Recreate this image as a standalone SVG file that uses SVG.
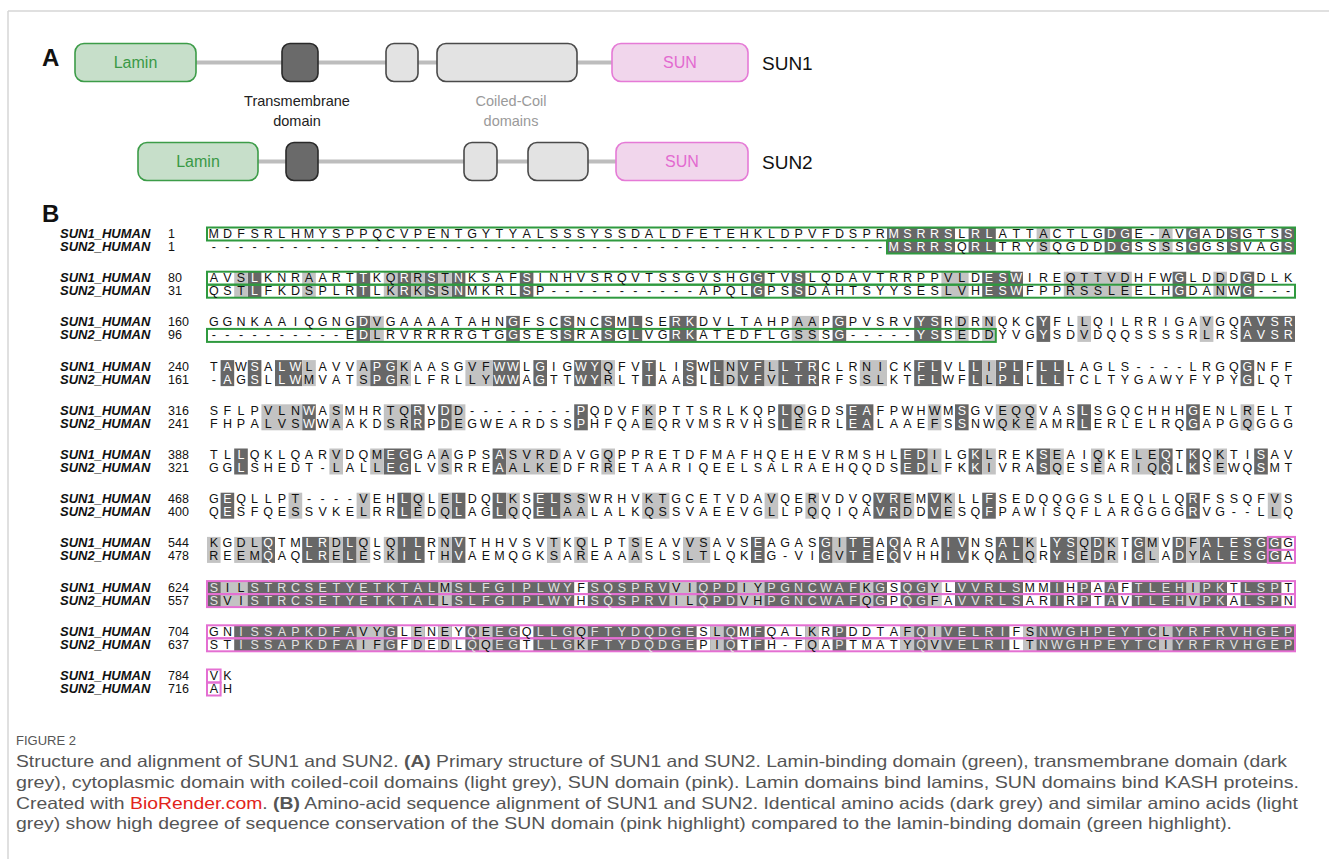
<svg xmlns="http://www.w3.org/2000/svg" width="1329" height="859" viewBox="0 0 1329 859">
<defs><style>
.seq{font-family:"Liberation Sans",Arial,sans-serif;font-size:12.5px;fill:#111;text-anchor:middle}
.w{fill:#fff}
.w2{fill:#e2e2e2}
.lab{font-family:"Liberation Sans",Arial,sans-serif;font-size:13px;font-weight:bold;font-style:italic;fill:#111}
.num{font-family:"Liberation Sans",Arial,sans-serif;font-size:12.5px;fill:#111}
.d{fill:#676767}
.l{fill:#c3c3c3}
.wc{fill:#fff}
.gb{fill:none;stroke:#2f9a3f;stroke-width:2}
.pb{fill:none;stroke:#e46fd2;stroke-width:2}
.cap{font-family:"Liberation Sans",Arial,sans-serif;font-size:16.5px;fill:#555}
.big{font-family:"Liberation Sans",Arial,sans-serif;font-size:24px;font-weight:bold;fill:#111}
.bb{stroke:#bdbdbd;stroke-width:4}
.lam{fill:#c7dfca;stroke:#3c9c48;stroke-width:1.6}
.lamt{font-family:"Liberation Sans",Arial,sans-serif;font-size:16px;fill:#3a9946;text-anchor:middle}
.tm{fill:#6a6a6a;stroke:#2a2a2a;stroke-width:1.6}
.cc{fill:#e3e3e3;stroke:#4a4a4a;stroke-width:1.6}
.sun{fill:#f1d6ec;stroke:#e57ad6;stroke-width:1.6}
.sunt{font-family:"Liberation Sans",Arial,sans-serif;font-size:16px;fill:#e36ad0;text-anchor:middle}
.name{font-family:"Liberation Sans",Arial,sans-serif;font-size:19px;fill:#111}
.note{font-family:"Liberation Sans",Arial,sans-serif;font-size:14.5px;text-anchor:middle}
</style></defs>
<rect x="0" y="0" width="1329" height="859" fill="#fff"/>
<g id="frame"><line x1="8" y1="11" x2="1329" y2="11" stroke="#d6d6d6" stroke-width="1.5"/><line x1="8" y1="11" x2="8" y2="859" stroke="#d6d6d6" stroke-width="1.5"/></g>

<g id="panelA">
<text x="42" y="66" class="big">A</text>
<g id="connectors">
<line x1="196" y1="62.5" x2="612" y2="62.5" class="bb"/>
<line x1="258" y1="161.5" x2="616" y2="161.5" class="bb"/>
</g>
<g id="sun1-lamin"><rect x="75" y="43.5" width="121" height="38" rx="9" class="lam"/><text x="135.5" y="68" class="lamt">Lamin</text></g>
<g id="sun1-tm"><rect x="282" y="43.5" width="36" height="38" rx="8" class="tm"/></g>
<g id="sun1-cc1"><rect x="386" y="43.5" width="32" height="38" rx="8" class="cc"/></g>
<g id="sun1-cc2"><rect x="437" y="43.5" width="140" height="38" rx="9" class="cc"/></g>
<g id="sun1-sun"><rect x="612" y="43.5" width="136" height="38" rx="9" class="sun"/><text x="680" y="68" class="sunt">SUN</text></g>
<g id="sun1-name"><text x="762" y="70" class="name">SUN1</text></g>
<g id="tm-label"><text x="297" y="106" class="note" fill="#222">Transmembrane</text><text x="297" y="126" class="note" fill="#222">domain</text></g>
<g id="cc-label"><text x="511" y="106" class="note" fill="#9a9a9a">Coiled-Coil</text><text x="511" y="126" class="note" fill="#9a9a9a">domains</text></g>
<g id="sun2-lamin"><rect x="138" y="142.5" width="120" height="38" rx="9" class="lam"/><text x="198" y="167" class="lamt">Lamin</text></g>
<g id="sun2-tm"><rect x="286" y="142.5" width="32" height="38" rx="8" class="tm"/></g>
<g id="sun2-cc1"><rect x="464" y="142.5" width="33" height="38" rx="8" class="cc"/></g>
<g id="sun2-cc2"><rect x="528" y="142.5" width="60" height="38" rx="9" class="cc"/></g>
<g id="sun2-sun"><rect x="616" y="142.5" width="132" height="38" rx="9" class="sun"/><text x="682" y="167" class="sunt">SUN</text></g>
<g id="sun2-name"><text x="762" y="169" class="name">SUN2</text></g>
</g>

<g id="panelB">
<text x="42" y="222" class="big">B</text>

<g id="shading">
<g transform="translate(207 227.5) scale(13.6 13)">
<rect class="d" x="50" y="0" width="5" height="2"/><rect class="d" x="56" y="0" width="2" height="2"/><rect class="d" x="66" y="0" width="2" height="2"/><rect class="d" x="72" y="0" width="1" height="2"/><rect class="d" x="75" y="0" width="1" height="2"/><rect class="d" x="79" y="0" width="1" height="2"/>
<rect class="l" x="61" y="0" width="1" height="2"/><rect class="l" x="70" y="0" width="1" height="2"/>
</g>
<g transform="translate(207 271.7) scale(13.6 13)">
<rect class="d" x="3" y="0" width="1" height="2"/><rect class="d" x="11" y="0" width="1" height="2"/><rect class="d" x="14" y="0" width="1" height="2"/><rect class="d" x="16" y="0" width="1" height="2"/><rect class="d" x="18" y="0" width="1" height="2"/><rect class="d" x="23" y="0" width="1" height="2"/><rect class="d" x="40" y="0" width="1" height="2"/><rect class="d" x="43" y="0" width="1" height="2"/><rect class="d" x="57" y="0" width="3" height="2"/><rect class="d" x="71" y="0" width="1" height="2"/><rect class="d" x="76" y="0" width="1" height="2"/>
<rect class="l" x="2" y="0" width="1" height="2"/><rect class="l" x="7" y="0" width="1" height="2"/><rect class="l" x="13" y="0" width="1" height="2"/><rect class="l" x="15" y="0" width="1" height="2"/><rect class="l" x="17" y="0" width="1" height="2"/><rect class="l" x="54" y="0" width="2" height="2"/><rect class="l" x="63" y="0" width="5" height="2"/><rect class="l" x="74" y="0" width="1" height="2"/>
</g>
<g transform="translate(207 315.9) scale(13.6 13)">
<rect class="d" x="11" y="0" width="1" height="2"/><rect class="d" x="22" y="0" width="1" height="2"/><rect class="d" x="26" y="0" width="1" height="2"/><rect class="d" x="29" y="0" width="1" height="2"/><rect class="d" x="31" y="0" width="1" height="2"/><rect class="d" x="34" y="0" width="2" height="2"/><rect class="d" x="46" y="0" width="1" height="2"/><rect class="d" x="52" y="0" width="2" height="2"/><rect class="d" x="61" y="0" width="1" height="2"/><rect class="d" x="76" y="0" width="4" height="2"/>
<rect class="l" x="12" y="0" width="1" height="2"/><rect class="l" x="43" y="0" width="2" height="2"/><rect class="l" x="55" y="0" width="1" height="2"/><rect class="l" x="57" y="0" width="1" height="2"/><rect class="l" x="64" y="0" width="1" height="2"/><rect class="l" x="73" y="0" width="1" height="2"/>
</g>
<g transform="translate(207 360.1) scale(13.6 13)">
<rect class="d" x="1" y="0" width="1" height="2"/><rect class="d" x="3" y="0" width="1" height="2"/><rect class="d" x="5" y="0" width="2" height="2"/><rect class="d" x="12" y="0" width="2" height="2"/><rect class="d" x="21" y="0" width="2" height="2"/><rect class="d" x="24" y="0" width="1" height="2"/><rect class="d" x="27" y="0" width="2" height="2"/><rect class="d" x="32" y="0" width="1" height="2"/><rect class="d" x="35" y="0" width="1" height="2"/><rect class="d" x="37" y="0" width="1" height="2"/><rect class="d" x="39" y="0" width="2" height="2"/><rect class="d" x="42" y="0" width="3" height="2"/><rect class="d" x="52" y="0" width="2" height="2"/><rect class="d" x="56" y="0" width="1" height="2"/><rect class="d" x="58" y="0" width="2" height="2"/><rect class="d" x="61" y="0" width="2" height="2"/><rect class="d" x="76" y="0" width="1" height="2"/>
<rect class="l" x="7" y="0" width="1" height="2"/><rect class="l" x="11" y="0" width="1" height="2"/><rect class="l" x="14" y="0" width="1" height="2"/><rect class="l" x="19" y="0" width="2" height="2"/><rect class="l" x="29" y="0" width="1" height="2"/><rect class="l" x="38" y="0" width="1" height="2"/><rect class="l" x="41" y="0" width="1" height="2"/><rect class="l" x="48" y="0" width="2" height="2"/><rect class="l" x="57" y="0" width="1" height="2"/>
</g>
<g transform="translate(207 404.3) scale(13.6 13)">
<rect class="d" x="7" y="0" width="1" height="2"/><rect class="d" x="15" y="0" width="1" height="2"/><rect class="d" x="17" y="0" width="1" height="2"/><rect class="d" x="27" y="0" width="1" height="2"/><rect class="d" x="42" y="0" width="1" height="2"/><rect class="d" x="47" y="0" width="2" height="2"/><rect class="d" x="55" y="0" width="1" height="2"/><rect class="d" x="64" y="0" width="1" height="2"/><rect class="d" x="72" y="0" width="1" height="2"/>
<rect class="l" x="4" y="0" width="3" height="2"/><rect class="l" x="9" y="0" width="1" height="2"/><rect class="l" x="13" y="0" width="2" height="2"/><rect class="l" x="18" y="0" width="1" height="2"/><rect class="l" x="32" y="0" width="1" height="2"/><rect class="l" x="43" y="0" width="1" height="2"/><rect class="l" x="53" y="0" width="1" height="2"/><rect class="l" x="58" y="0" width="3" height="2"/><rect class="l" x="76" y="0" width="1" height="2"/>
</g>
<g transform="translate(207 448.5) scale(13.6 13)">
<rect class="d" x="2" y="0" width="1" height="2"/><rect class="d" x="13" y="0" width="2" height="2"/><rect class="d" x="21" y="0" width="1" height="2"/><rect class="d" x="51" y="0" width="2" height="2"/><rect class="d" x="56" y="0" width="1" height="2"/><rect class="d" x="61" y="0" width="1" height="2"/><rect class="d" x="70" y="0" width="1" height="2"/><rect class="d" x="72" y="0" width="1" height="2"/><rect class="d" x="77" y="0" width="1" height="2"/>
<rect class="l" x="9" y="0" width="1" height="2"/><rect class="l" x="12" y="0" width="1" height="2"/><rect class="l" x="17" y="0" width="1" height="2"/><rect class="l" x="22" y="0" width="4" height="2"/><rect class="l" x="29" y="0" width="1" height="2"/><rect class="l" x="53" y="0" width="1" height="2"/><rect class="l" x="57" y="0" width="1" height="2"/><rect class="l" x="62" y="0" width="1" height="2"/><rect class="l" x="65" y="0" width="1" height="2"/><rect class="l" x="68" y="0" width="2" height="2"/><rect class="l" x="74" y="0" width="1" height="2"/>
</g>
<g transform="translate(207 492.7) scale(13.6 13)">
<rect class="d" x="1" y="0" width="1" height="2"/><rect class="d" x="14" y="0" width="1" height="2"/><rect class="d" x="18" y="0" width="1" height="2"/><rect class="d" x="21" y="0" width="1" height="2"/><rect class="d" x="24" y="0" width="2" height="2"/><rect class="d" x="49" y="0" width="2" height="2"/><rect class="d" x="53" y="0" width="1" height="2"/><rect class="d" x="57" y="0" width="1" height="2"/><rect class="d" x="72" y="0" width="1" height="2"/>
<rect class="l" x="6" y="0" width="1" height="2"/><rect class="l" x="11" y="0" width="1" height="2"/><rect class="l" x="15" y="0" width="1" height="2"/><rect class="l" x="17" y="0" width="1" height="2"/><rect class="l" x="22" y="0" width="1" height="2"/><rect class="l" x="26" y="0" width="2" height="2"/><rect class="l" x="32" y="0" width="2" height="2"/><rect class="l" x="41" y="0" width="1" height="2"/><rect class="l" x="44" y="0" width="1" height="2"/><rect class="l" x="51" y="0" width="1" height="2"/><rect class="l" x="54" y="0" width="1" height="2"/><rect class="l" x="78" y="0" width="1" height="2"/>
</g>
<g transform="translate(207 536.9) scale(13.6 13)">
<rect class="d" x="4" y="0" width="1" height="2"/><rect class="d" x="7" y="0" width="2" height="2"/><rect class="d" x="10" y="0" width="1" height="2"/><rect class="d" x="14" y="0" width="2" height="2"/><rect class="d" x="18" y="0" width="1" height="2"/><rect class="d" x="40" y="0" width="1" height="2"/><rect class="d" x="45" y="0" width="1" height="2"/><rect class="d" x="47" y="0" width="2" height="2"/><rect class="d" x="50" y="0" width="1" height="2"/><rect class="d" x="54" y="0" width="2" height="2"/><rect class="d" x="58" y="0" width="2" height="2"/><rect class="d" x="62" y="0" width="2" height="2"/><rect class="d" x="65" y="0" width="1" height="2"/><rect class="d" x="68" y="0" width="1" height="2"/><rect class="d" x="71" y="0" width="1" height="2"/><rect class="d" x="73" y="0" width="6" height="2"/>
<rect class="l" x="0" y="0" width="1" height="2"/><rect class="l" x="2" y="0" width="2" height="2"/><rect class="l" x="9" y="0" width="1" height="2"/><rect class="l" x="11" y="0" width="1" height="2"/><rect class="l" x="13" y="0" width="1" height="2"/><rect class="l" x="17" y="0" width="1" height="2"/><rect class="l" x="25" y="0" width="1" height="2"/><rect class="l" x="27" y="0" width="1" height="2"/><rect class="l" x="31" y="0" width="1" height="2"/><rect class="l" x="35" y="0" width="2" height="2"/><rect class="l" x="46" y="0" width="1" height="2"/><rect class="l" x="60" y="0" width="1" height="2"/><rect class="l" x="64" y="0" width="1" height="2"/><rect class="l" x="66" y="0" width="1" height="2"/><rect class="l" x="69" y="0" width="1" height="2"/><rect class="l" x="72" y="0" width="1" height="2"/>
</g>
<g transform="translate(207 581.1) scale(13.6 13)">
<rect class="d" x="0" y="0" width="80" height="2"/>
<rect class="l" x="1" y="0" width="2" height="2"/><rect class="l" x="17" y="0" width="1" height="2"/><rect class="l" x="34" y="0" width="2" height="2"/><rect class="l" x="39" y="0" width="2" height="2"/><rect class="l" x="48" y="0" width="1" height="2"/><rect class="l" x="53" y="0" width="1" height="2"/><rect class="l" x="72" y="0" width="1" height="2"/>
<rect class="wc" x="27" y="0" width="1" height="2"/><rect class="wc" x="50" y="0" width="1" height="2"/><rect class="wc" x="54" y="0" width="1" height="2"/><rect class="wc" x="60" y="0" width="2" height="2"/><rect class="wc" x="63" y="0" width="1" height="2"/><rect class="wc" x="65" y="0" width="1" height="2"/><rect class="wc" x="67" y="0" width="1" height="2"/><rect class="wc" x="75" y="0" width="1" height="2"/><rect class="wc" x="79" y="0" width="1" height="2"/>
</g>
<g transform="translate(207 625.3) scale(13.6 13)">
<rect class="d" x="0" y="0" width="80" height="2"/>
<rect class="wc" x="0" y="0" width="2" height="2"/><rect class="wc" x="14" y="0" width="1" height="2"/><rect class="wc" x="16" y="0" width="1" height="2"/><rect class="wc" x="18" y="0" width="1" height="2"/><rect class="wc" x="23" y="0" width="1" height="2"/><rect class="wc" x="36" y="0" width="1" height="2"/><rect class="wc" x="39" y="0" width="1" height="2"/><rect class="wc" x="41" y="0" width="3" height="2"/><rect class="wc" x="45" y="0" width="1" height="2"/><rect class="wc" x="47" y="0" width="4" height="2"/><rect class="wc" x="59" y="0" width="1" height="2"/>
<rect class="l" x="11" y="0" width="2" height="2"/><rect class="l" x="15" y="0" width="1" height="2"/><rect class="l" x="17" y="0" width="1" height="2"/><rect class="l" x="20" y="0" width="1" height="2"/><rect class="l" x="27" y="0" width="1" height="2"/><rect class="l" x="37" y="0" width="1" height="2"/><rect class="l" x="44" y="0" width="1" height="2"/><rect class="l" x="51" y="0" width="1" height="2"/><rect class="l" x="53" y="0" width="1" height="2"/><rect class="l" x="60" y="0" width="1" height="2"/><rect class="l" x="70" y="0" width="1" height="2"/>
</g>
</g>

<g id="domain-boxes">
<rect class="gb" x="207" y="227.5" width="1088" height="13"/>
<rect class="gb" x="887" y="240.5" width="408" height="13"/>
<rect class="gb" x="207" y="271.7" width="802.4" height="13"/>
<rect class="gb" x="207" y="284.7" width="1088" height="13"/>
<rect class="gb" x="207" y="328.9" width="788.8" height="13"/>
<rect class="pb" x="1267.8" y="536.9" width="27.2" height="13"/>
<rect class="pb" x="1267.8" y="549.9" width="27.2" height="13"/>
<rect class="pb" x="207" y="581.1" width="1088" height="13"/>
<rect class="pb" x="207" y="594.1" width="1088" height="13"/>
<rect class="pb" x="207" y="625.3" width="1088" height="13"/>
<rect class="pb" x="207" y="638.3" width="1088" height="13"/>
<rect class="pb" x="207" y="669.5" width="13.6" height="13"/>
<rect class="pb" x="207" y="682.5" width="13.6" height="13"/>
</g>

<g id="row-labels">
<text class="lab" x="60" y="238">SUN1_HUMAN</text><text class="lab" x="60" y="251">SUN2_HUMAN</text>
<text class="lab" x="60" y="282.2">SUN1_HUMAN</text><text class="lab" x="60" y="295.2">SUN2_HUMAN</text>
<text class="lab" x="60" y="326.4">SUN1_HUMAN</text><text class="lab" x="60" y="339.4">SUN2_HUMAN</text>
<text class="lab" x="60" y="370.6">SUN1_HUMAN</text><text class="lab" x="60" y="383.6">SUN2_HUMAN</text>
<text class="lab" x="60" y="414.8">SUN1_HUMAN</text><text class="lab" x="60" y="427.8">SUN2_HUMAN</text>
<text class="lab" x="60" y="459">SUN1_HUMAN</text><text class="lab" x="60" y="472">SUN2_HUMAN</text>
<text class="lab" x="60" y="503.2">SUN1_HUMAN</text><text class="lab" x="60" y="516.2">SUN2_HUMAN</text>
<text class="lab" x="60" y="547.4">SUN1_HUMAN</text><text class="lab" x="60" y="560.4">SUN2_HUMAN</text>
<text class="lab" x="60" y="591.6">SUN1_HUMAN</text><text class="lab" x="60" y="604.6">SUN2_HUMAN</text>
<text class="lab" x="60" y="635.8">SUN1_HUMAN</text><text class="lab" x="60" y="648.8">SUN2_HUMAN</text>
<text class="lab" x="60" y="680">SUN1_HUMAN</text><text class="lab" x="60" y="693">SUN2_HUMAN</text>
<text class="num" x="168" y="238">1</text><text class="num" x="168" y="251">1</text>
<text class="num" x="168" y="282.2">80</text><text class="num" x="168" y="295.2">31</text>
<text class="num" x="168" y="326.4">160</text><text class="num" x="168" y="339.4">96</text>
<text class="num" x="168" y="370.6">240</text><text class="num" x="168" y="383.6">161</text>
<text class="num" x="168" y="414.8">316</text><text class="num" x="168" y="427.8">241</text>
<text class="num" x="168" y="459">388</text><text class="num" x="168" y="472">321</text>
<text class="num" x="168" y="503.2">468</text><text class="num" x="168" y="516.2">400</text>
<text class="num" x="168" y="547.4">544</text><text class="num" x="168" y="560.4">478</text>
<text class="num" x="168" y="591.6">624</text><text class="num" x="168" y="604.6">557</text>
<text class="num" x="168" y="635.8">704</text><text class="num" x="168" y="648.8">637</text>
<text class="num" x="168" y="680">784</text><text class="num" x="168" y="693">716</text>
</g>

<g id="sequences">
<text class="seq" y="238" x="213.8 227.4 241 254.6 268.2 281.8 295.4 309 322.6 336.2 349.8 363.4 377 390.6 404.2 417.8 431.4 445 458.6 472.2 485.8 499.4 513 526.6 540.2 553.8 567.4 581 594.6 608.2 621.8 635.4 649 662.6 676.2 689.8 703.4 717 730.6 744.2 757.8 771.4 785 798.6 812.2 825.8 839.4 853 866.6 880.2 893.8 907.4 921 934.6 948.2 961.8 975.4 989 1002.6 1016.2 1029.8 1043.4 1057 1070.6 1084.2 1097.8 1111.4 1125 1138.6 1152.2 1165.8 1179.4 1193 1206.6 1220.2 1233.8 1247.4 1261 1274.6 1288.2">MDFSRLHMYSPPQCVPENTGYTYALSSSYSSDALDFETEHKLDPVFDSPR<tspan class="w">MSRRS</tspan>L<tspan class="w">RL</tspan>ATTACTLG<tspan class="w">DG</tspan>E-AV<tspan class="w">G</tspan>AD<tspan class="w">S</tspan>GTS<tspan class="w">S</tspan></text>
<text class="seq" y="251" x="213.8 227.4 241 254.6 268.2 281.8 295.4 309 322.6 336.2 349.8 363.4 377 390.6 404.2 417.8 431.4 445 458.6 472.2 485.8 499.4 513 526.6 540.2 553.8 567.4 581 594.6 608.2 621.8 635.4 649 662.6 676.2 689.8 703.4 717 730.6 744.2 757.8 771.4 785 798.6 812.2 825.8 839.4 853 866.6 880.2 893.8 907.4 921 934.6 948.2 961.8 975.4 989 1002.6 1016.2 1029.8 1043.4 1057 1070.6 1084.2 1097.8 1111.4 1125 1138.6 1152.2 1165.8 1179.4 1193 1206.6 1220.2 1233.8 1247.4 1261 1274.6 1288.2">--------------------------------------------------<tspan class="w">MSRRS</tspan>Q<tspan class="w">RL</tspan>TRYSQGDD<tspan class="w">DG</tspan>SSSS<tspan class="w">G</tspan>GS<tspan class="w">S</tspan>VAG<tspan class="w">S</tspan></text>

<text class="seq" y="282.2" x="213.8 227.4 241 254.6 268.2 281.8 295.4 309 322.6 336.2 349.8 363.4 377 390.6 404.2 417.8 431.4 445 458.6 472.2 485.8 499.4 513 526.6 540.2 553.8 567.4 581 594.6 608.2 621.8 635.4 649 662.6 676.2 689.8 703.4 717 730.6 744.2 757.8 771.4 785 798.6 812.2 825.8 839.4 853 866.6 880.2 893.8 907.4 921 934.6 948.2 961.8 975.4 989 1002.6 1016.2 1029.8 1043.4 1057 1070.6 1084.2 1097.8 1111.4 1125 1138.6 1152.2 1165.8 1179.4 1193 1206.6 1220.2 1233.8 1247.4 1261 1274.6 1288.2">AVS<tspan class="w">L</tspan>KNRAART<tspan class="w">T</tspan>KQ<tspan class="w">R</tspan>R<tspan class="w">S</tspan>T<tspan class="w">N</tspan>KSAF<tspan class="w">S</tspan>INHVSRQVTSSGVSHG<tspan class="w">G</tspan>TV<tspan class="w">S</tspan>LQDAVTRRPPVLD<tspan class="w">ESW</tspan>IREQTTVDHFW<tspan class="w">G</tspan>LDDD<tspan class="w">G</tspan>DLK</text>
<text class="seq" y="295.2" x="213.8 227.4 241 254.6 268.2 281.8 295.4 309 322.6 336.2 349.8 363.4 377 390.6 404.2 417.8 431.4 445 458.6 472.2 485.8 499.4 513 526.6 540.2 553.8 567.4 581 594.6 608.2 621.8 635.4 649 662.6 676.2 689.8 703.4 717 730.6 744.2 757.8 771.4 785 798.6 812.2 825.8 839.4 853 866.6 880.2 893.8 907.4 921 934.6 948.2 961.8 975.4 989 1002.6 1016.2 1029.8 1043.4 1057 1070.6 1084.2 1097.8 1111.4 1125 1138.6 1152.2 1165.8 1179.4 1193 1206.6 1220.2 1233.8 1247.4 1261 1274.6 1288.2">QST<tspan class="w">L</tspan>FKDSPLR<tspan class="w">T</tspan>LK<tspan class="w">R</tspan>K<tspan class="w">S</tspan>S<tspan class="w">N</tspan>MKRL<tspan class="w">S</tspan>P-----------APQL<tspan class="w">G</tspan>PS<tspan class="w">S</tspan>DAHTSYYSESLVH<tspan class="w">ESW</tspan>FPPRSSLEELH<tspan class="w">G</tspan>DANW<tspan class="w">G</tspan>---</text>

<text class="seq" y="326.4" x="213.8 227.4 241 254.6 268.2 281.8 295.4 309 322.6 336.2 349.8 363.4 377 390.6 404.2 417.8 431.4 445 458.6 472.2 485.8 499.4 513 526.6 540.2 553.8 567.4 581 594.6 608.2 621.8 635.4 649 662.6 676.2 689.8 703.4 717 730.6 744.2 757.8 771.4 785 798.6 812.2 825.8 839.4 853 866.6 880.2 893.8 907.4 921 934.6 948.2 961.8 975.4 989 1002.6 1016.2 1029.8 1043.4 1057 1070.6 1084.2 1097.8 1111.4 1125 1138.6 1152.2 1165.8 1179.4 1193 1206.6 1220.2 1233.8 1247.4 1261 1274.6 1288.2">GGNKAAIQGNG<tspan class="w">D</tspan>VGAAAATAHN<tspan class="w">G</tspan>FSC<tspan class="w">S</tspan>NC<tspan class="w">S</tspan>M<tspan class="w">L</tspan>SE<tspan class="w">RK</tspan>DVLTAHPAAP<tspan class="w">G</tspan>PVSRV<tspan class="w">YS</tspan>RDRNQKC<tspan class="w">Y</tspan>FLLQILRRIGAVGQ<tspan class="w">AVSR</tspan></text>
<text class="seq" y="339.4" x="213.8 227.4 241 254.6 268.2 281.8 295.4 309 322.6 336.2 349.8 363.4 377 390.6 404.2 417.8 431.4 445 458.6 472.2 485.8 499.4 513 526.6 540.2 553.8 567.4 581 594.6 608.2 621.8 635.4 649 662.6 676.2 689.8 703.4 717 730.6 744.2 757.8 771.4 785 798.6 812.2 825.8 839.4 853 866.6 880.2 893.8 907.4 921 934.6 948.2 961.8 975.4 989 1002.6 1016.2 1029.8 1043.4 1057 1070.6 1084.2 1097.8 1111.4 1125 1138.6 1152.2 1165.8 1179.4 1193 1206.6 1220.2 1233.8 1247.4 1261 1274.6 1288.2">----------E<tspan class="w">D</tspan>LRVRRRRGTG<tspan class="w">G</tspan>SES<tspan class="w">S</tspan>RA<tspan class="w">S</tspan>G<tspan class="w">L</tspan>VG<tspan class="w">RK</tspan>ATEDFLGSSS<tspan class="w">G</tspan>-----<tspan class="w">YS</tspan>SEDDYVG<tspan class="w">Y</tspan>SDVDQQSSSSRLRS<tspan class="w">AVSR</tspan></text>

<text class="seq" y="370.6" x="213.8 227.4 241 254.6 268.2 281.8 295.4 309 322.6 336.2 349.8 363.4 377 390.6 404.2 417.8 431.4 445 458.6 472.2 485.8 499.4 513 526.6 540.2 553.8 567.4 581 594.6 608.2 621.8 635.4 649 662.6 676.2 689.8 703.4 717 730.6 744.2 757.8 771.4 785 798.6 812.2 825.8 839.4 853 866.6 880.2 893.8 907.4 921 934.6 948.2 961.8 975.4 989 1002.6 1016.2 1029.8 1043.4 1057 1070.6 1084.2 1097.8 1111.4 1125 1138.6 1152.2 1165.8 1179.4 1193 1206.6 1220.2 1233.8 1247.4 1261 1274.6 1288.2">T<tspan class="w">A</tspan>W<tspan class="w">S</tspan>A<tspan class="w">LW</tspan>LAVVA<tspan class="w">PG</tspan>KAASGVF<tspan class="w">WW</tspan>L<tspan class="w">G</tspan>IG<tspan class="w">WY</tspan>QFV<tspan class="w">T</tspan>LI<tspan class="w">S</tspan>W<tspan class="w">L</tspan>N<tspan class="w">VF</tspan>L<tspan class="w">LTR</tspan>CLRNICK<tspan class="w">FL</tspan>VL<tspan class="w">L</tspan>I<tspan class="w">PL</tspan>F<tspan class="w">LL</tspan>LAGLS----LRGQ<tspan class="w">G</tspan>NFF</text>
<text class="seq" y="383.6" x="213.8 227.4 241 254.6 268.2 281.8 295.4 309 322.6 336.2 349.8 363.4 377 390.6 404.2 417.8 431.4 445 458.6 472.2 485.8 499.4 513 526.6 540.2 553.8 567.4 581 594.6 608.2 621.8 635.4 649 662.6 676.2 689.8 703.4 717 730.6 744.2 757.8 771.4 785 798.6 812.2 825.8 839.4 853 866.6 880.2 893.8 907.4 921 934.6 948.2 961.8 975.4 989 1002.6 1016.2 1029.8 1043.4 1057 1070.6 1084.2 1097.8 1111.4 1125 1138.6 1152.2 1165.8 1179.4 1193 1206.6 1220.2 1233.8 1247.4 1261 1274.6 1288.2">-<tspan class="w">A</tspan>G<tspan class="w">S</tspan>L<tspan class="w">LW</tspan>MVATS<tspan class="w">PG</tspan>RLFRLLY<tspan class="w">WW</tspan>A<tspan class="w">G</tspan>TT<tspan class="w">WY</tspan>RLT<tspan class="w">T</tspan>AA<tspan class="w">S</tspan>L<tspan class="w">L</tspan>D<tspan class="w">VF</tspan>V<tspan class="w">LTR</tspan>RFSSLKT<tspan class="w">FL</tspan>WF<tspan class="w">L</tspan>L<tspan class="w">PL</tspan>L<tspan class="w">LL</tspan>TCLTYGAWYFYPY<tspan class="w">G</tspan>LQT</text>

<text class="seq" y="414.8" x="213.8 227.4 241 254.6 268.2 281.8 295.4 309 322.6 336.2 349.8 363.4 377 390.6 404.2 417.8 431.4 445 458.6 472.2 485.8 499.4 513 526.6 540.2 553.8 567.4 581 594.6 608.2 621.8 635.4 649 662.6 676.2 689.8 703.4 717 730.6 744.2 757.8 771.4 785 798.6 812.2 825.8 839.4 853 866.6 880.2 893.8 907.4 921 934.6 948.2 961.8 975.4 989 1002.6 1016.2 1029.8 1043.4 1057 1070.6 1084.2 1097.8 1111.4 1125 1138.6 1152.2 1165.8 1179.4 1193 1206.6 1220.2 1233.8 1247.4 1261 1274.6 1288.2">SFLPVLN<tspan class="w">W</tspan>ASMHRTQ<tspan class="w">R</tspan>V<tspan class="w">D</tspan>D--------<tspan class="w">P</tspan>QDVFKPTTSRLKQP<tspan class="w">L</tspan>QGDS<tspan class="w">EA</tspan>FPWHWM<tspan class="w">S</tspan>GVEQQVAS<tspan class="w">L</tspan>SGQCHHH<tspan class="w">G</tspan>ENLRELT</text>
<text class="seq" y="427.8" x="213.8 227.4 241 254.6 268.2 281.8 295.4 309 322.6 336.2 349.8 363.4 377 390.6 404.2 417.8 431.4 445 458.6 472.2 485.8 499.4 513 526.6 540.2 553.8 567.4 581 594.6 608.2 621.8 635.4 649 662.6 676.2 689.8 703.4 717 730.6 744.2 757.8 771.4 785 798.6 812.2 825.8 839.4 853 866.6 880.2 893.8 907.4 921 934.6 948.2 961.8 975.4 989 1002.6 1016.2 1029.8 1043.4 1057 1070.6 1084.2 1097.8 1111.4 1125 1138.6 1152.2 1165.8 1179.4 1193 1206.6 1220.2 1233.8 1247.4 1261 1274.6 1288.2">FHPALVS<tspan class="w">W</tspan>WAAKDSR<tspan class="w">R</tspan>P<tspan class="w">D</tspan>EGWEARDSS<tspan class="w">P</tspan>HFQAEQRVMSRVHS<tspan class="w">L</tspan>ERRL<tspan class="w">EA</tspan>LAAEFS<tspan class="w">S</tspan>NWQKEAMR<tspan class="w">L</tspan>ERLELRQ<tspan class="w">G</tspan>APGQGGG</text>

<text class="seq" y="459" x="213.8 227.4 241 254.6 268.2 281.8 295.4 309 322.6 336.2 349.8 363.4 377 390.6 404.2 417.8 431.4 445 458.6 472.2 485.8 499.4 513 526.6 540.2 553.8 567.4 581 594.6 608.2 621.8 635.4 649 662.6 676.2 689.8 703.4 717 730.6 744.2 757.8 771.4 785 798.6 812.2 825.8 839.4 853 866.6 880.2 893.8 907.4 921 934.6 948.2 961.8 975.4 989 1002.6 1016.2 1029.8 1043.4 1057 1070.6 1084.2 1097.8 1111.4 1125 1138.6 1152.2 1165.8 1179.4 1193 1206.6 1220.2 1233.8 1247.4 1261 1274.6 1288.2">TL<tspan class="w">L</tspan>QKLQARVDQM<tspan class="w">EG</tspan>GAAGPS<tspan class="w">A</tspan>SVRDAVGQPPRETDFMAFHQEHEVRMSHL<tspan class="w">ED</tspan>ILG<tspan class="w">K</tspan>LREK<tspan class="w">S</tspan>EAIQKELE<tspan class="w">Q</tspan>T<tspan class="w">K</tspan>QKTI<tspan class="w">S</tspan>AV</text>
<text class="seq" y="472" x="213.8 227.4 241 254.6 268.2 281.8 295.4 309 322.6 336.2 349.8 363.4 377 390.6 404.2 417.8 431.4 445 458.6 472.2 485.8 499.4 513 526.6 540.2 553.8 567.4 581 594.6 608.2 621.8 635.4 649 662.6 676.2 689.8 703.4 717 730.6 744.2 757.8 771.4 785 798.6 812.2 825.8 839.4 853 866.6 880.2 893.8 907.4 921 934.6 948.2 961.8 975.4 989 1002.6 1016.2 1029.8 1043.4 1057 1070.6 1084.2 1097.8 1111.4 1125 1138.6 1152.2 1165.8 1179.4 1193 1206.6 1220.2 1233.8 1247.4 1261 1274.6 1288.2">GG<tspan class="w">L</tspan>SHEDT-LALL<tspan class="w">EG</tspan>LVSRRE<tspan class="w">A</tspan>ALKEDFRRETAARIQEELSALRAEHQQDS<tspan class="w">ED</tspan>LFK<tspan class="w">K</tspan>IVRA<tspan class="w">S</tspan>QESEARIQ<tspan class="w">Q</tspan>L<tspan class="w">K</tspan>SEWQ<tspan class="w">S</tspan>MT</text>

<text class="seq" y="503.2" x="213.8 227.4 241 254.6 268.2 281.8 295.4 309 322.6 336.2 349.8 363.4 377 390.6 404.2 417.8 431.4 445 458.6 472.2 485.8 499.4 513 526.6 540.2 553.8 567.4 581 594.6 608.2 621.8 635.4 649 662.6 676.2 689.8 703.4 717 730.6 744.2 757.8 771.4 785 798.6 812.2 825.8 839.4 853 866.6 880.2 893.8 907.4 921 934.6 948.2 961.8 975.4 989 1002.6 1016.2 1029.8 1043.4 1057 1070.6 1084.2 1097.8 1111.4 1125 1138.6 1152.2 1165.8 1179.4 1193 1206.6 1220.2 1233.8 1247.4 1261 1274.6 1288.2">G<tspan class="w">E</tspan>QLLPT----VEH<tspan class="w">L</tspan>QLE<tspan class="w">L</tspan>DQ<tspan class="w">L</tspan>KS<tspan class="w">EL</tspan>SSWRHVKTGCETVDAVQERVDVQ<tspan class="w">VR</tspan>EM<tspan class="w">V</tspan>KLL<tspan class="w">F</tspan>SEDQQGGSLEQLLQ<tspan class="w">R</tspan>FSSQFVS</text>
<text class="seq" y="516.2" x="213.8 227.4 241 254.6 268.2 281.8 295.4 309 322.6 336.2 349.8 363.4 377 390.6 404.2 417.8 431.4 445 458.6 472.2 485.8 499.4 513 526.6 540.2 553.8 567.4 581 594.6 608.2 621.8 635.4 649 662.6 676.2 689.8 703.4 717 730.6 744.2 757.8 771.4 785 798.6 812.2 825.8 839.4 853 866.6 880.2 893.8 907.4 921 934.6 948.2 961.8 975.4 989 1002.6 1016.2 1029.8 1043.4 1057 1070.6 1084.2 1097.8 1111.4 1125 1138.6 1152.2 1165.8 1179.4 1193 1206.6 1220.2 1233.8 1247.4 1261 1274.6 1288.2">Q<tspan class="w">E</tspan>SFQESSVKELRR<tspan class="w">L</tspan>EDQ<tspan class="w">L</tspan>AG<tspan class="w">L</tspan>QQ<tspan class="w">EL</tspan>AALALKQSSVAEEVGLLPQQIQA<tspan class="w">VR</tspan>DD<tspan class="w">V</tspan>ESQ<tspan class="w">F</tspan>PAWISQFLARGGGG<tspan class="w">R</tspan>VG--LLQ</text>

<text class="seq" y="547.4" x="213.8 227.4 241 254.6 268.2 281.8 295.4 309 322.6 336.2 349.8 363.4 377 390.6 404.2 417.8 431.4 445 458.6 472.2 485.8 499.4 513 526.6 540.2 553.8 567.4 581 594.6 608.2 621.8 635.4 649 662.6 676.2 689.8 703.4 717 730.6 744.2 757.8 771.4 785 798.6 812.2 825.8 839.4 853 866.6 880.2 893.8 907.4 921 934.6 948.2 961.8 975.4 989 1002.6 1016.2 1029.8 1043.4 1057 1070.6 1084.2 1097.8 1111.4 1125 1138.6 1152.2 1165.8 1179.4 1193 1206.6 1220.2 1233.8 1247.4 1261 1274.6 1288.2">KGDL<tspan class="w">Q</tspan>TM<tspan class="w">LR</tspan>D<tspan class="w">L</tspan>QLQ<tspan class="w">IL</tspan>RN<tspan class="w">V</tspan>THHVSVTKQLPTSEAVVSAVS<tspan class="w">E</tspan>AGAS<tspan class="w">G</tspan>I<tspan class="w">TE</tspan>A<tspan class="w">Q</tspan>ARA<tspan class="w">IV</tspan>NS<tspan class="w">AL</tspan>KL<tspan class="w">YS</tspan>Q<tspan class="w">D</tspan>KT<tspan class="w">G</tspan>MV<tspan class="w">D</tspan>F<tspan class="w">ALESGG</tspan>G</text>
<text class="seq" y="560.4" x="213.8 227.4 241 254.6 268.2 281.8 295.4 309 322.6 336.2 349.8 363.4 377 390.6 404.2 417.8 431.4 445 458.6 472.2 485.8 499.4 513 526.6 540.2 553.8 567.4 581 594.6 608.2 621.8 635.4 649 662.6 676.2 689.8 703.4 717 730.6 744.2 757.8 771.4 785 798.6 812.2 825.8 839.4 853 866.6 880.2 893.8 907.4 921 934.6 948.2 961.8 975.4 989 1002.6 1016.2 1029.8 1043.4 1057 1070.6 1084.2 1097.8 1111.4 1125 1138.6 1152.2 1165.8 1179.4 1193 1206.6 1220.2 1233.8 1247.4 1261 1274.6 1288.2">REEM<tspan class="w">Q</tspan>AQ<tspan class="w">LR</tspan>E<tspan class="w">L</tspan>ESK<tspan class="w">IL</tspan>TH<tspan class="w">V</tspan>AEMQGKSAREAAASLSLTLQK<tspan class="w">E</tspan>G-VI<tspan class="w">G</tspan>V<tspan class="w">TE</tspan>E<tspan class="w">Q</tspan>VHH<tspan class="w">IV</tspan>KQ<tspan class="w">AL</tspan>QR<tspan class="w">YS</tspan>E<tspan class="w">D</tspan>RI<tspan class="w">G</tspan>LA<tspan class="w">D</tspan>Y<tspan class="w">ALESGG</tspan>A</text>

<text class="seq" y="591.6" x="213.8 227.4 241 254.6 268.2 281.8 295.4 309 322.6 336.2 349.8 363.4 377 390.6 404.2 417.8 431.4 445 458.6 472.2 485.8 499.4 513 526.6 540.2 553.8 567.4 581 594.6 608.2 621.8 635.4 649 662.6 676.2 689.8 703.4 717 730.6 744.2 757.8 771.4 785 798.6 812.2 825.8 839.4 853 866.6 880.2 893.8 907.4 921 934.6 948.2 961.8 975.4 989 1002.6 1016.2 1029.8 1043.4 1057 1070.6 1084.2 1097.8 1111.4 1125 1138.6 1152.2 1165.8 1179.4 1193 1206.6 1220.2 1233.8 1247.4 1261 1274.6 1288.2"><tspan class="w2">S</tspan>IL<tspan class="w2">STRCSETYETKTAL</tspan>M<tspan class="w2">SLFGIPLWY</tspan>F<tspan class="w2">SQSPRV</tspan>VI<tspan class="w2">QPD</tspan>IY<tspan class="w2">PGNCWAF</tspan>K<tspan class="w2">G</tspan>S<tspan class="w2">QG</tspan>YL<tspan class="w2">VVRLS</tspan>MM<tspan class="w2">I</tspan>H<tspan class="w2">P</tspan>A<tspan class="w2">A</tspan>F<tspan class="w2">TLEH</tspan>I<tspan class="w2">PK</tspan>T<tspan class="w2">LSP</tspan>T</text>
<text class="seq" y="604.6" x="213.8 227.4 241 254.6 268.2 281.8 295.4 309 322.6 336.2 349.8 363.4 377 390.6 404.2 417.8 431.4 445 458.6 472.2 485.8 499.4 513 526.6 540.2 553.8 567.4 581 594.6 608.2 621.8 635.4 649 662.6 676.2 689.8 703.4 717 730.6 744.2 757.8 771.4 785 798.6 812.2 825.8 839.4 853 866.6 880.2 893.8 907.4 921 934.6 948.2 961.8 975.4 989 1002.6 1016.2 1029.8 1043.4 1057 1070.6 1084.2 1097.8 1111.4 1125 1138.6 1152.2 1165.8 1179.4 1193 1206.6 1220.2 1233.8 1247.4 1261 1274.6 1288.2"><tspan class="w2">S</tspan>VI<tspan class="w2">STRCSETYETKTAL</tspan>L<tspan class="w2">SLFGIPLWY</tspan>H<tspan class="w2">SQSPRV</tspan>IL<tspan class="w2">QPD</tspan>VH<tspan class="w2">PGNCWAF</tspan>Q<tspan class="w2">G</tspan>P<tspan class="w2">QG</tspan>FA<tspan class="w2">VVRLS</tspan>AR<tspan class="w2">I</tspan>R<tspan class="w2">P</tspan>T<tspan class="w2">A</tspan>V<tspan class="w2">TLEH</tspan>V<tspan class="w2">PK</tspan>A<tspan class="w2">LSP</tspan>N</text>

<text class="seq" y="635.8" x="213.8 227.4 241 254.6 268.2 281.8 295.4 309 322.6 336.2 349.8 363.4 377 390.6 404.2 417.8 431.4 445 458.6 472.2 485.8 499.4 513 526.6 540.2 553.8 567.4 581 594.6 608.2 621.8 635.4 649 662.6 676.2 689.8 703.4 717 730.6 744.2 757.8 771.4 785 798.6 812.2 825.8 839.4 853 866.6 880.2 893.8 907.4 921 934.6 948.2 961.8 975.4 989 1002.6 1016.2 1029.8 1043.4 1057 1070.6 1084.2 1097.8 1111.4 1125 1138.6 1152.2 1165.8 1179.4 1193 1206.6 1220.2 1233.8 1247.4 1261 1274.6 1288.2">GN<tspan class="w2">ISSAPKDFA</tspan>VY<tspan class="w2">G</tspan>LENEY<tspan class="w2">Q</tspan>E<tspan class="w2">EG</tspan>Q<tspan class="w2">LLG</tspan>Q<tspan class="w2">FTYDQDGE</tspan>SL<tspan class="w2">Q</tspan>M<tspan class="w2">F</tspan>QALKR<tspan class="w2">P</tspan>DDTAF<tspan class="w2">Q</tspan>I<tspan class="w2">VELRI</tspan>FS<tspan class="w2">NWGHPEYTC</tspan>L<tspan class="w2">YRFRVHGEP</tspan></text>
<text class="seq" y="648.8" x="213.8 227.4 241 254.6 268.2 281.8 295.4 309 322.6 336.2 349.8 363.4 377 390.6 404.2 417.8 431.4 445 458.6 472.2 485.8 499.4 513 526.6 540.2 553.8 567.4 581 594.6 608.2 621.8 635.4 649 662.6 676.2 689.8 703.4 717 730.6 744.2 757.8 771.4 785 798.6 812.2 825.8 839.4 853 866.6 880.2 893.8 907.4 921 934.6 948.2 961.8 975.4 989 1002.6 1016.2 1029.8 1043.4 1057 1070.6 1084.2 1097.8 1111.4 1125 1138.6 1152.2 1165.8 1179.4 1193 1206.6 1220.2 1233.8 1247.4 1261 1274.6 1288.2">ST<tspan class="w2">ISSAPKDFA</tspan>IF<tspan class="w2">G</tspan>FDEDL<tspan class="w2">Q</tspan>Q<tspan class="w2">EG</tspan>T<tspan class="w2">LLG</tspan>K<tspan class="w2">FTYDQDGE</tspan>PI<tspan class="w2">Q</tspan>T<tspan class="w2">F</tspan>H-FQA<tspan class="w2">P</tspan>TMATY<tspan class="w2">Q</tspan>V<tspan class="w2">VELRI</tspan>LT<tspan class="w2">NWGHPEYTC</tspan>I<tspan class="w2">YRFRVHGEP</tspan></text>

<text class="seq" y="680" x="213.8 227.4">VK</text>
<text class="seq" y="693" x="213.8 227.4">AH</text>
</g>
</g>

<g id="caption">
<text x="16" y="745" font-family="Liberation Sans, Arial, sans-serif" font-size="13" fill="#555">FIGURE 2</text>
<text class="cap" x="16" y="767" textLength="1271" lengthAdjust="spacingAndGlyphs">Structure and alignment of SUN1 and SUN2. <tspan font-weight="bold">(A)</tspan> Primary structure of SUN1 and SUN2. Lamin-binding domain (green), transmembrane domain (dark</text>
<text class="cap" x="16" y="788" textLength="1283" lengthAdjust="spacingAndGlyphs">grey), cytoplasmic domain with coiled-coil domains (light grey), SUN domain (pink). Lamin domains bind lamins, SUN domains bind KASH proteins.</text>
<text class="cap" x="16" y="808.5" textLength="1282" lengthAdjust="spacingAndGlyphs">Created with <tspan fill="#e2231a">BioRender.com</tspan>. <tspan font-weight="bold">(B)</tspan> Amino-acid sequence alignment of SUN1 and SUN2. Identical amino acids (dark grey) and similar amino acids (light</text>
<text class="cap" x="16" y="829" textLength="1216" lengthAdjust="spacingAndGlyphs">grey) show high degree of sequence conservation of the SUN domain (pink highlight) compared to the lamin-binding domain (green highlight).</text>
</g>
</svg>
